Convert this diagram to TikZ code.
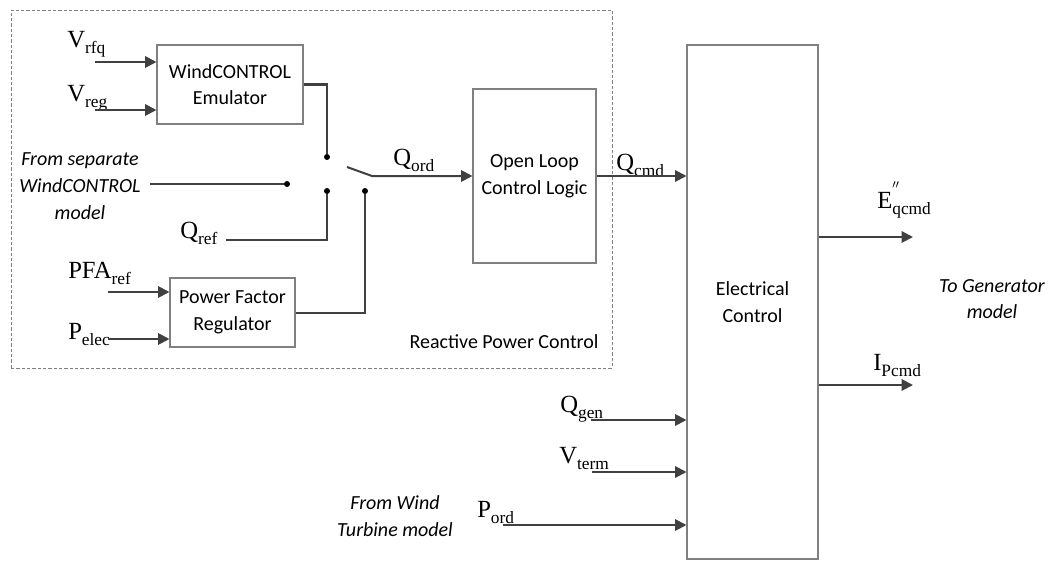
\documentclass[tikz,border=0pt]{standalone}
\usepackage{fontspec}
\setmainfont{Liberation Serif}
\newfontfamily\calib{Carlito}
\usetikzlibrary{arrows.meta}
\definecolor{wirec}{HTML}{404040}
\definecolor{boxc}{HTML}{808080}
\newcommand\sig[2]{{\fontsize{18.5}{18.5}\selectfont #1}\raisebox{-4.5pt}{\fontsize{13}{13}\selectfont #2}}
\begin{document}
\begin{tikzpicture}[x=0.75pt,y=-0.75pt,
 blk/.style={draw=boxc,line width=0.8pt,inner sep=0,font=\calib\fontsize{15}{20}\selectfont,align=center},
 txt/.style={font=\calib\fontsize{15}{20}\selectfont,align=center,inner sep=0},
 itx/.style={font=\calib\itshape\fontsize{15}{20}\selectfont,align=center,inner sep=0},
 sg/.style={anchor=base west,inner sep=0},
 wire/.style={draw=wirec,line width=1.5pt},
 arr/.style={wire,-{Triangle[length=8.5pt,width=8.5pt]}},
 dot/.style={circle,fill=black,inner sep=0,minimum size=4.5pt}]
\useasboundingbox (0,0) rectangle (1052,560);

% reactive power control frame
\node (rpc) [draw=boxc,line width=0.6pt,dash pattern=on 2.5pt off 1.5pt,minimum width=450.75pt,minimum height=268.5pt,inner sep=0] at (311.5,189) {};
\node (rpcl) [txt,anchor=base] at (504,348) {Reactive Power Control};

% blocks
\node (emu) [blk,minimum width=109.5pt,minimum height=59.25pt] at (230,84.5) {WindCONTROL\\Emulator};
\node (pfr) [blk,minimum width=93.75pt,minimum height=51.75pt] at (232.5,312.5) {Power Factor\\Regulator};
\node (olc) [blk,minimum width=92.25pt,minimum height=130.5pt] at (534.5,176) {Open Loop\\Control Logic};
\node (ec) [blk,minimum width=98.25pt,minimum height=385.5pt] at (752.5,302) {Electrical\\Control};

% switch contacts
\node (s1) [dot] at (327,157) {};
\node (s2) [dot] at (287,184) {};
\node (s3) [dot] at (327,191) {};
\node (s4) [dot] at (365,191) {};
\coordinate (piv) at (347,167);
\coordinate (sw) at (372,176);

% input start points
\coordinate (vrfqS) at (95,62);
\coordinate (vregS) at (95,110);
\coordinate (wcS) at (150,184);
\coordinate (qrefS) at (226,240);
\coordinate (pfaS) at (108,292);
\coordinate (pelS) at (108,339);
\coordinate (qgenS) at (591,420);
\coordinate (vtermS) at (592,472);
\coordinate (pordS) at (503,525);
\coordinate (eqE) at (913,237);
\coordinate (ipE) at (913,385);

% labels
\node (lvrfq) [sg] at (67,48) {\sig{V}{rfq}};
\node (lvreg) [sg] at (67,101) {\sig{V}{reg}};
\node (lqref) [sg] at (180,238) {\sig{Q}{ref}};
\node (lpfa) [sg] at (68,278) {\sig{PFA}{ref}};
\node (lpel) [sg] at (68,339) {\sig{P}{elec}};
\node (lqord) [sg] at (393,165) {\sig{Q}{ord}};
\node (lqcmd) [sg] at (616,170) {\sig{Q}{cmd}};
\node (leq) [sg] at (877,208) {{\fontsize{18.5}{18.5}\selectfont E}\rlap{\raisebox{10pt}{\fontsize{13}{13}\selectfont$^{\prime\prime}$}}\raisebox{-4.5pt}{\fontsize{13}{13}\selectfont qcmd}};
\node (lip) [sg] at (873,370) {\sig{I}{Pcmd}};
\node (lqgen) [sg] at (560,412) {\sig{Q}{gen}};
\node (lvterm) [sg] at (559,463) {\sig{V}{term}};
\node (lpord) [sg] at (477,517) {\sig{P}{ord}};

% italic notes
\node (nwc) [itx] at (80,186) {From separate\\WindCONTROL\\model};
\node (ngen) [itx] at (992,299) {To Generator\\model};
\node (nwt) [itx] at (395,516) {From Wind\\Turbine model};

% connectors
\draw[arr] (vrfqS) -- (vrfqS -| emu.west);
\draw[arr] (vregS) -- (vregS -| emu.west);
\draw[wire] (emu.east) -| (s1);
\draw[wire] (wcS) -- (s2);
\draw[wire] (qrefS) -| (s3);
\draw[arr] (pfaS) -- (pfaS -| pfr.west);
\draw[arr] (pelS) -- (pelS -| pfr.west);
\draw[wire] (pfr.east) -| (s4);
\draw[arr] (piv) -- (sw) -- (sw -| olc.west);
\draw[arr] (olc.east) -- (olc.east -| ec.west);
\draw[arr] (eqE -| ec.east) -- (eqE);
\draw[arr] (ipE -| ec.east) -- (ipE);
\draw[arr] (qgenS) -- (qgenS -| ec.west);
\draw[arr] (vtermS) -- (vtermS -| ec.west);
\draw[arr] (pordS) -- (pordS -| ec.west);
\end{tikzpicture}
\end{document}
